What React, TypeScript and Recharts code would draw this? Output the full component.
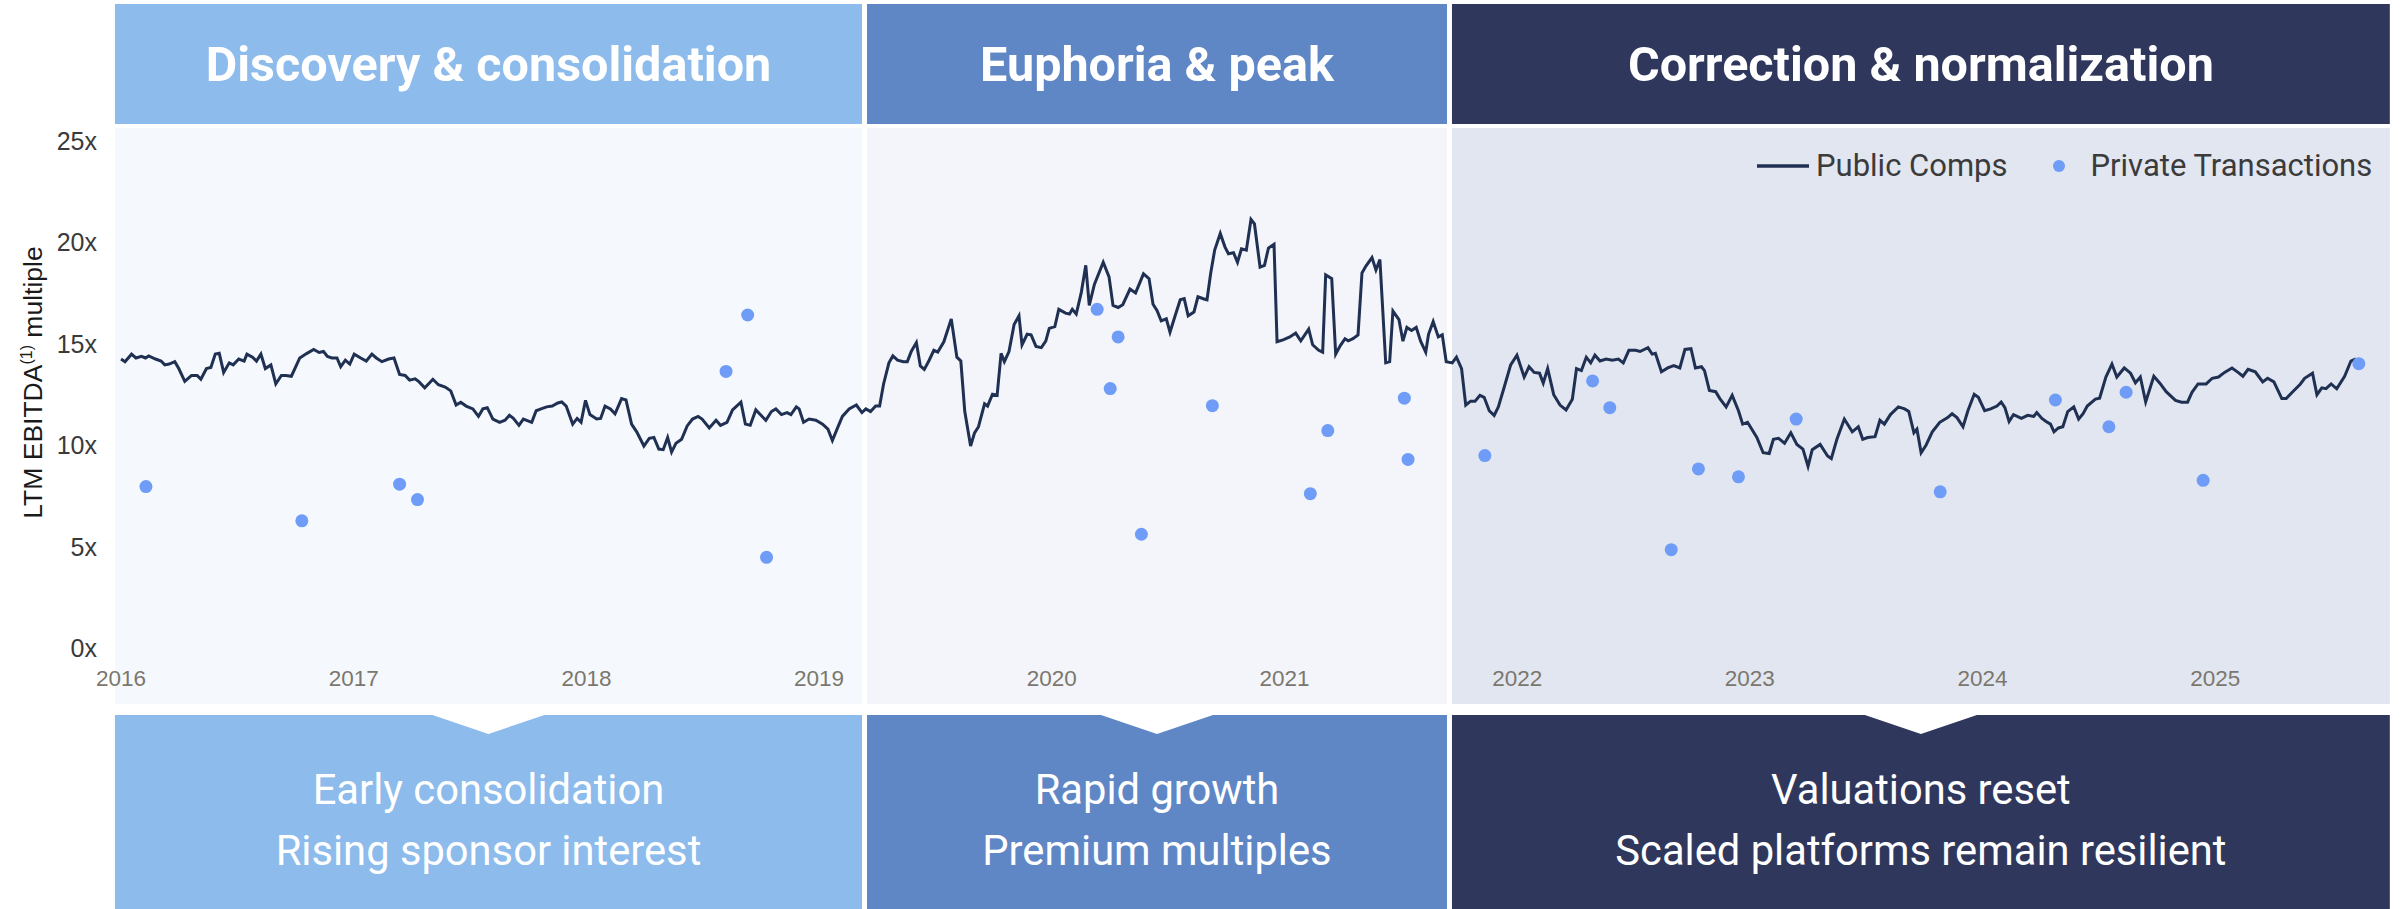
import React from 'react';
import { ComposedChart, Line, Scatter, XAxis, YAxis, ReferenceArea, Legend } from 'recharts';

const CHART_W = 2405;
const CHART_H = 909;

const yearTicks = [2016, 2017, 2018, 2019, 2020, 2021, 2022, 2023, 2024, 2025];
const multipleTicks = [0, 5, 10, 15, 20, 25];

const phaseTitles = ['Discovery & consolidation', 'Euphoria & peak', 'Correction & normalization'];
const phaseLine1 = ['Early consolidation', 'Rapid growth', 'Valuations reset'];
const phaseLine2 = ['Rising sponsor interest', 'Premium multiples', 'Scaled platforms remain resilient'];
const phaseStarts = [2015.963, 2019.195, 2021.709];
const phaseEnds = [2019.195, 2021.709, 2025.761];

const headColors = ['#8cbbec', '#5f87c6', '#30375d'];
const bandColors = ['#f5f9fd', '#f3f5fa', '#e2e6f0'];
const LINE_COLOR = '#1f3052';
const DOT_COLOR = '#6e9cf7';

// public comps, LTM EBITDA multiple
const compYears = [
  2016.000, 2016.017, 2016.045, 2016.064, 2016.088, 2016.105, 2016.119, 2016.148, 2016.172, 2016.188,
  2016.207, 2016.231, 2016.248, 2016.274, 2016.303, 2016.327, 2016.343, 2016.367, 2016.386, 2016.405,
  2016.422, 2016.441, 2016.465, 2016.482, 2016.506, 2016.529, 2016.541, 2016.565, 2016.582, 2016.601,
  2016.620, 2016.644, 2016.665, 2016.689, 2016.708, 2016.732, 2016.768, 2016.799, 2016.828, 2016.851,
  2016.870, 2016.887, 2016.906, 2016.928, 2016.944, 2016.964, 2016.983, 2017.002, 2017.030, 2017.054,
  2017.078, 2017.097, 2017.121, 2017.150, 2017.173, 2017.197, 2017.221, 2017.240, 2017.264, 2017.281,
  2017.305, 2017.321, 2017.340, 2017.364, 2017.393, 2017.417, 2017.440, 2017.460, 2017.483, 2017.512,
  2017.536, 2017.555, 2017.574, 2017.598, 2017.627, 2017.650, 2017.669, 2017.686, 2017.710, 2017.729,
  2017.765, 2017.784, 2017.805, 2017.829, 2017.853, 2017.877, 2017.894, 2017.913, 2017.941, 2017.960,
  2017.977, 2017.996, 2018.015, 2018.044, 2018.061, 2018.080, 2018.103, 2018.123, 2018.151, 2018.170,
  2018.194, 2018.216, 2018.247, 2018.270, 2018.290, 2018.311, 2018.330, 2018.349, 2018.366, 2018.385,
  2018.409, 2018.433, 2018.456, 2018.480, 2018.497, 2018.528, 2018.557, 2018.576, 2018.604, 2018.628,
  2018.664, 2018.683, 2018.704, 2018.728, 2018.747, 2018.771, 2018.795, 2018.814, 2018.838, 2018.862,
  2018.879, 2018.902, 2018.914, 2018.933, 2018.957, 2018.986, 2019.015, 2019.038, 2019.057, 2019.077,
  2019.100, 2019.129, 2019.160, 2019.184, 2019.201, 2019.221, 2019.243, 2019.260, 2019.277, 2019.300,
  2019.317, 2019.337, 2019.362, 2019.379, 2019.396, 2019.418, 2019.435, 2019.452, 2019.473, 2019.493,
  2019.510, 2019.536, 2019.568, 2019.592, 2019.609, 2019.626, 2019.651, 2019.668, 2019.685, 2019.711,
  2019.724, 2019.745, 2019.765, 2019.782, 2019.796, 2019.816, 2019.838, 2019.859, 2019.872, 2019.894,
  2019.911, 2019.932, 2019.955, 2019.974, 2019.989, 2020.013, 2020.030, 2020.059, 2020.076, 2020.088,
  2020.105, 2020.127, 2020.146, 2020.161, 2020.183, 2020.221, 2020.246, 2020.263, 2020.285, 2020.305,
  2020.336, 2020.360, 2020.394, 2020.418, 2020.435, 2020.452, 2020.470, 2020.492, 2020.508, 2020.530,
  2020.552, 2020.569, 2020.586, 2020.611, 2020.628, 2020.654, 2020.667, 2020.683, 2020.700, 2020.724,
  2020.744, 2020.759, 2020.781, 2020.798, 2020.815, 2020.836, 2020.856, 2020.871, 2020.895, 2020.914,
  2020.931, 2020.955, 2020.968, 2020.994, 2021.023, 2021.048, 2021.070, 2021.104, 2021.121, 2021.147,
  2021.164, 2021.177, 2021.203, 2021.220, 2021.240, 2021.260, 2021.274, 2021.294, 2021.316, 2021.333,
  2021.350, 2021.376, 2021.393, 2021.410, 2021.435, 2021.452, 2021.466, 2021.492, 2021.509, 2021.526,
  2021.546, 2021.566, 2021.585, 2021.607, 2021.619, 2021.639, 2021.661, 2021.678, 2021.695, 2021.721,
  2021.739, 2021.761, 2021.779, 2021.800, 2021.819, 2021.840, 2021.858, 2021.880, 2021.901, 2021.919,
  2021.946, 2021.972, 2021.999, 2022.030, 2022.051, 2022.073, 2022.096, 2022.112, 2022.131, 2022.157,
  2022.184, 2022.210, 2022.237, 2022.255, 2022.276, 2022.297, 2022.316, 2022.334, 2022.356, 2022.382,
  2022.409, 2022.435, 2022.456, 2022.480, 2022.509, 2022.528, 2022.562, 2022.580, 2022.594, 2022.620,
  2022.647, 2022.673, 2022.699, 2022.721, 2022.747, 2022.766, 2022.792, 2022.805, 2022.826, 2022.853,
  2022.871, 2022.898, 2022.924, 2022.951, 2022.969, 2022.990, 2023.030, 2023.057, 2023.083, 2023.101,
  2023.123, 2023.149, 2023.176, 2023.202, 2023.228, 2023.250, 2023.268, 2023.302, 2023.334, 2023.350,
  2023.374, 2023.406, 2023.440, 2023.466, 2023.485, 2023.506, 2023.538, 2023.559, 2023.578, 2023.604,
  2023.638, 2023.665, 2023.683, 2023.705, 2023.718, 2023.736, 2023.757, 2023.784, 2023.816, 2023.850,
  2023.869, 2023.890, 2023.916, 2023.937, 2023.964, 2023.982, 2024.009, 2024.035, 2024.062, 2024.080,
  2024.096, 2024.114, 2024.133, 2024.167, 2024.194, 2024.220, 2024.233, 2024.255, 2024.273, 2024.292,
  2024.307, 2024.326, 2024.345, 2024.366, 2024.392, 2024.413, 2024.432, 2024.450, 2024.485, 2024.503,
  2024.530, 2024.556, 2024.577, 2024.609, 2024.636, 2024.657, 2024.678, 2024.701, 2024.736, 2024.762,
  2024.789, 2024.829, 2024.855, 2024.881, 2024.900, 2024.926, 2024.961, 2024.987, 2025.014, 2025.040,
  2025.072, 2025.098, 2025.119, 2025.141, 2025.172, 2025.186, 2025.204, 2025.225, 2025.252, 2025.286,
  2025.305, 2025.331, 2025.366, 2025.384, 2025.418, 2025.437, 2025.458, 2025.476, 2025.498, 2025.522,
  2025.556, 2025.583, 2025.604,
];

const compMultiples = [
  14.25, 14.12, 14.49, 14.30, 14.38, 14.30, 14.40, 14.25, 14.15, 13.96,
  14.00, 14.12, 13.78, 13.15, 13.44, 13.44, 13.25, 13.78, 13.83, 14.49,
  14.53, 13.59, 14.06, 13.96, 14.25, 14.15, 14.49, 14.34, 14.15, 14.49,
  13.78, 13.96, 13.02, 13.44, 13.44, 13.40, 14.30, 14.53, 14.72, 14.57,
  14.62, 14.38, 14.30, 14.30, 13.87, 14.19, 14.00, 14.49, 14.30, 14.15,
  14.49, 14.30, 14.12, 14.25, 14.30, 13.49, 13.44, 13.21, 13.27, 13.12,
  12.83, 13.02, 13.25, 12.98, 12.87, 12.68, 11.98, 12.12, 11.93, 11.79,
  11.42, 11.79, 11.85, 11.29, 11.13, 11.23, 11.47, 11.32, 10.98, 11.29,
  11.13, 11.70, 11.79, 11.89, 11.93, 12.08, 12.13, 11.93, 11.04, 11.32,
  11.13, 12.21, 11.51, 11.29, 11.32, 11.93, 11.79, 11.55, 12.30, 12.23,
  11.04, 10.66, 9.96, 10.34, 10.38, 9.81, 9.78, 10.38, 9.66, 10.10,
  10.29, 10.95, 11.29, 11.42, 11.29, 10.85, 11.23, 10.98, 11.13, 11.74,
  12.12, 11.04, 10.98, 11.74, 11.51, 11.23, 11.66, 11.79, 11.51, 11.61,
  11.51, 11.89, 11.79, 11.13, 11.29, 11.23, 11.04, 10.79, 10.23, 10.79,
  11.42, 11.79, 11.98, 11.61, 11.79, 11.66, 11.93, 11.93, 13.02, 14.06,
  14.40, 14.19, 14.12, 14.12, 14.62, 15.06, 13.91, 13.74, 14.19, 14.68,
  14.59, 15.10, 16.23, 14.34, 14.15, 11.66, 9.96, 10.61, 10.91, 12.04,
  11.93, 12.51, 12.46, 14.53, 14.12, 14.62, 15.95, 16.38, 14.95, 15.47,
  15.44, 14.87, 14.81, 15.13, 15.76, 15.85, 16.70, 16.51, 16.47, 16.70,
  16.47, 17.55, 18.87, 16.89, 17.93, 19.02, 18.30, 16.89, 16.79, 16.93,
  17.70, 17.51, 18.45, 18.21, 16.95, 16.64, 16.13, 16.23, 15.57, 16.38,
  17.17, 17.23, 16.38, 16.57, 17.32, 17.21, 17.17, 18.49, 19.62, 20.44,
  19.78, 19.44, 19.49, 19.02, 19.68, 19.62, 21.13, 20.91, 18.78, 18.87,
  19.72, 19.91, 15.10, 15.19, 15.34, 15.53, 15.15, 15.72, 14.95, 14.68,
  14.59, 18.40, 18.21, 14.49, 14.91, 15.25, 15.15, 15.25, 15.44, 18.49,
  18.83, 19.25, 18.64, 19.15, 14.06, 14.12, 16.61, 16.19, 15.13, 15.81,
  15.66, 15.81, 15.13, 14.59, 15.47, 16.10, 15.34, 15.44, 14.12, 14.06,
  14.34, 13.78, 11.98, 12.17, 12.17, 12.46, 12.36, 11.70, 11.47, 11.89,
  12.93, 13.96, 14.44, 13.36, 13.87, 13.59, 13.55, 13.06, 13.78, 12.49,
  11.98, 11.74, 12.27, 13.78, 13.68, 14.34, 14.06, 14.44, 14.15, 14.25,
  14.19, 14.25, 14.06, 14.68, 14.68, 14.62, 14.81, 14.49, 14.53, 13.62,
  13.81, 13.93, 13.81, 14.72, 14.76, 13.81, 13.87, 13.68, 12.70, 12.64,
  12.30, 11.89, 12.46, 11.70, 11.04, 11.13, 10.38, 9.63, 9.59, 10.29,
  10.34, 10.10, 10.61, 10.04, 9.81, 8.96, 9.78, 10.04, 9.47, 9.34,
  10.29, 11.29, 10.66, 10.91, 10.29, 10.38, 10.42, 11.23, 11.04, 11.51,
  11.89, 11.79, 11.66, 10.61, 10.79, 9.63, 10.00, 10.66, 11.13, 11.36,
  11.55, 11.36, 10.91, 11.70, 12.51, 12.36, 11.70, 11.79, 11.93, 12.13,
  11.85, 11.17, 11.51, 11.32, 11.47, 11.42, 11.61, 11.32, 11.17, 11.04,
  10.66, 10.85, 10.91, 11.66, 11.89, 11.29, 11.55, 11.93, 12.27, 12.32,
  13.36, 14.00, 13.36, 13.81, 13.55, 13.08, 13.36, 12.13, 13.40, 13.06,
  12.64, 12.21, 12.12, 12.12, 12.61, 13.02, 13.02, 13.30, 13.36, 13.59,
  13.81, 13.59, 13.40, 13.74, 13.62, 13.40, 13.12, 13.30, 13.12, 12.30,
  12.30, 12.61, 13.02, 13.30, 13.55, 12.49, 12.83, 12.79, 13.02, 12.78,
  13.40, 14.15, 14.25,
];

// private transactions
const dealYears = [
  2016.107, 2016.777, 2017.197, 2017.274, 2018.600, 2018.693, 2018.774,
  2020.195, 2020.251, 2020.285, 2020.385, 2020.690, 2021.111, 2021.186, 2021.515, 2021.531,
  2021.861, 2022.324, 2022.398, 2022.662, 2022.779, 2022.951, 2023.199, 2023.818,
  2024.313, 2024.543, 2024.617, 2024.948, 2025.617,
];
const dealMultiples = [
  7.96, 6.27, 8.08, 7.32, 13.64, 16.42, 4.47,
  16.70, 12.79, 15.34, 5.61, 11.95, 7.61, 10.72, 12.32, 9.30,
  9.49, 13.17, 11.85, 4.85, 8.83, 8.44, 11.29, 7.70,
  12.23, 10.91, 12.61, 8.27, 14.02,
];

const compData = compYears.map((year, i) => ({ year, value: compMultiples[i] }));
const dealData = dealYears.map((year, i) => ({ year, value: dealMultiples[i] }));

const phaseShape = (i: number) => (props: any) => {
  const { x, y, width, height } = props;
  const left = x + 2.5;
  const w = width - 5;
  const cx = left + w / 2;
  const bottom = y + height;
  const box = `M${left},${bottom + 67} H${cx - 56} L${cx},${bottom + 86} L${cx + 56},${bottom + 67} H${left + w} V${bottom + 300} H${left} Z`;
  return (
    <g>
      <rect x={left} y={y - 137} width={w} height={120} fill={headColors[i]} />
      <rect x={left} y={y - 13} width={w} height={576} fill={bandColors[i]} />
      <path d={box} fill={headColors[i]} />
      <text x={cx} y={y - 60} textAnchor="middle" fill="#fff" fontFamily="Roboto" fontWeight={700} fontSize={48.5}>
        {phaseTitles[i]}
      </text>
      <text x={cx} y={bottom + 156} textAnchor="middle" fill="#fff" fontFamily="Roboto" fontSize={41.7}>
        {phaseLine1[i]}
      </text>
      <text x={cx} y={bottom + 217} textAnchor="middle" fill="#fff" fontFamily="Roboto" fontSize={41.7}>
        {phaseLine2[i]}
      </text>
    </g>
  );
};

const YearTick = ({ x, y, payload }: any) => (
  <text x={x} y={y + 38} textAnchor="middle" fill="#7b776e" fontFamily="'Liberation Sans', Arial" fontSize={22.5}>
    {payload.value}
  </text>
);

const MultipleTick = ({ x, y, payload }: any) => (
  <text x={x - 18} y={y + 9} textAnchor="end" fill="#3a3a3a" fontFamily="'Liberation Sans', Arial" fontSize={25}>
    {`${payload.value}x`}
  </text>
);

const YTitle = ({ viewBox }: any) => {
  const tx = viewBox.x + 42;
  const ty = viewBox.y + viewBox.height / 2 - 12;
  return (
    <text transform={`translate(${tx},${ty}) rotate(-90)`} textAnchor="middle" fill="#1a1a1a"
      fontFamily="'Liberation Sans', Arial" fontSize={26.5}>
      <tspan>LTM EBITDA</tspan>
      <tspan fontSize={16} dy={-10}>(1)</tspan>
      <tspan dy={10}> multiple</tspan>
    </text>
  );
};

const renderLegend = ({ payload }: any) => {
  const items = [...(payload || [])].sort((a: any, b: any) => (a.type === 'line' ? -1 : 0) - (b.type === 'line' ? -1 : 0));
  return (
    <div style={{ display: 'flex', alignItems: 'center', fontFamily: 'Roboto', fontSize: 31, lineHeight: '36px', color: '#3b3b3b', whiteSpace: 'nowrap' }}>
      {items.map((entry: any, idx: number) => (
        <div key={entry.value} style={{ display: 'flex', alignItems: 'center', marginLeft: idx ? 45 : 0 }}>
          {entry.type === 'line' ? (
            <svg width={52} height={6}><line x1={0} y1={3} x2={52} y2={3} stroke={LINE_COLOR} strokeWidth={3.5} /></svg>
          ) : (
            <svg width={12} height={12}><circle cx={6} cy={6} r={6} fill={DOT_COLOR} /></svg>
          )}
          <span style={{ marginLeft: entry.type === 'line' ? 7 : 26 }}>{entry.value}</span>
        </div>
      ))}
    </div>
  );
};

export default function App() {
  return (
    <div style={{ position: 'absolute', left: 0, top: 0, width: CHART_W, height: CHART_H, background: '#fff' }}>
      <ComposedChart width={CHART_W} height={CHART_H} margin={{ top: 141, right: 15, bottom: 231, left: 0 }}>
        {phaseStarts.map((start, i) => (
          <ReferenceArea key={phaseTitles[i]} x1={start} x2={phaseEnds[i]} ifOverflow="visible" shape={phaseShape(i)} />
        ))}
        <XAxis dataKey="year" type="number" domain={[2015.974, 2025.751]} allowDataOverflow ticks={yearTicks}
          interval={0} axisLine={false} tickLine={false} tickSize={0} tickMargin={0} height={30} tick={<YearTick />} />
        <YAxis type="number" domain={[0, 25]} ticks={multipleTicks} allowDataOverflow width={115}
          axisLine={false} tickLine={false} tickSize={0} tickMargin={0} tick={<MultipleTick />}
          label={{ content: (p: any) => <YTitle {...p} /> }} />
        <Line data={compData} dataKey="value" name="Public Comps" type="linear" stroke={LINE_COLOR} strokeWidth={3}
          dot={false} activeDot={false} legendType="line" isAnimationActive={false} />
        <Scatter data={dealData} dataKey="value" name="Private Transactions" fill={DOT_COLOR} legendType="circle"
          shape={(p: any) => <circle cx={p.cx} cy={p.cy} r={6.5} fill={DOT_COLOR} />} isAnimationActive={false} />
        <Legend layout="horizontal" verticalAlign="middle" align="center" content={renderLegend}
          wrapperStyle={{ position: 'absolute', left: 1757, top: 148, width: 660 }} />
      </ComposedChart>
    </div>
  );
}
